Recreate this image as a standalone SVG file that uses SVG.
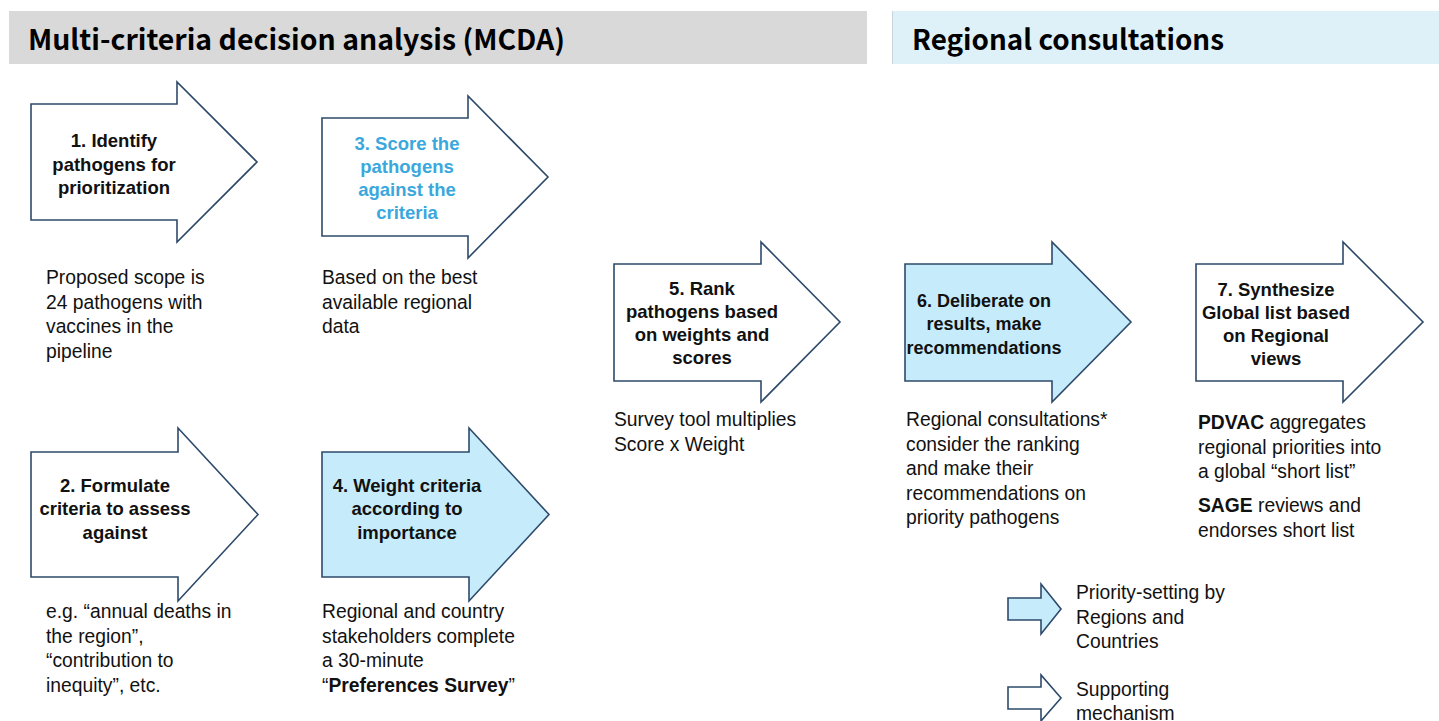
<svg xmlns="http://www.w3.org/2000/svg" width="1439" height="721" viewBox="0 0 1439 721">
  <style>
    .band-title { font-family: "Noto Sans CJK KR", "Open Sans", "Liberation Sans", sans-serif; font-weight: bold; font-size: 28px; fill: #000; }
    .step { stroke: #2E4A6B; stroke-width: 1.6; stroke-linejoin: miter; }
    .plain { fill: #FFFFFF; }
    .regional { fill: #C6ECFB; }
    .label { font-family: "Liberation Sans", Arial, sans-serif; font-weight: bold; font-size: 18.5px; fill: #111; text-anchor: middle; }
    .label.blue { fill: #3AA8DC; }
    .note { font-family: "Liberation Sans", Arial, sans-serif; font-size: 19.3px; fill: #111; }
    .note tspan.b { font-weight: bold; }
    .key { font-family: "Liberation Sans", Arial, sans-serif; font-size: 19.3px; fill: #111; }
  </style>

  <!-- Section bands -->
  <g id="band-mcda">
    <rect x="9" y="11" width="858" height="53" fill="#D9D9D9"/>
    <text class="band-title" x="28" y="50" textLength="537" lengthAdjust="spacingAndGlyphs">Multi-criteria decision analysis (MCDA)</text>
  </g>
  <g id="band-regional">
    <rect x="892" y="11" width="547" height="53" fill="#DEF1F9"/>
    <line x1="892.5" y1="11" x2="892.5" y2="64" stroke="#C8D6DC" stroke-width="1"/>
    <text class="band-title" x="912" y="50" textLength="312" lengthAdjust="spacingAndGlyphs">Regional consultations</text>
  </g>

  <!-- Step 1 -->
  <g id="step1">
    <polygon class="step plain" points="31,104 177,104 177,82 257,162 177,242 177,220 31,220"/>
    <text class="label" x="114" y="147">1. Identify<tspan x="114" dy="23.5">pathogens for</tspan><tspan x="114" dy="23.5">prioritization</tspan></text>
    <text class="note" x="46" y="284">Proposed scope is<tspan x="46" dy="24.5">24 pathogens with</tspan><tspan x="46" dy="24.5">vaccines in the</tspan><tspan x="46" dy="24.5">pipeline</tspan></text>
  </g>

  <!-- Step 2 -->
  <g id="step2">
    <polygon class="step plain" points="31,452 178,452 178,428 258,514.5 178,601 178,577 31,577"/>
    <text class="label" x="115" y="491.5">2. Formulate<tspan x="115" dy="23.5">criteria to assess</tspan><tspan x="115" dy="23.5">against</tspan></text>
    <text class="note" x="46" y="618">e.g. “annual deaths in<tspan x="46" dy="24.5">the region”,</tspan><tspan x="46" dy="24.5">“contribution to</tspan><tspan x="46" dy="24.5">inequity”, etc.</tspan></text>
  </g>

  <!-- Step 3 -->
  <g id="step3">
    <polygon class="step plain" points="322,118 468,118 468,96 548,177 468,258 468,236 322,236"/>
    <text class="label blue" x="407" y="149.5">3. Score the<tspan x="407" dy="23.3">pathogens</tspan><tspan x="407" dy="23.3">against the</tspan><tspan x="407" dy="23.3">criteria</tspan></text>
    <text class="note" x="322" y="284">Based on the best<tspan x="322" dy="24.5">available regional</tspan><tspan x="322" dy="24.5">data</tspan></text>
  </g>

  <!-- Step 4 -->
  <g id="step4">
    <polygon class="step regional" points="322,452 469,452 469,428 549,514.5 469,601 469,577 322,577"/>
    <text class="label" x="407" y="491.5">4. Weight criteria<tspan x="407" dy="23.5">according to</tspan><tspan x="407" dy="23.5">importance</tspan></text>
    <text class="note" x="322" y="618">Regional and country<tspan x="322" dy="24.5">stakeholders complete</tspan><tspan x="322" dy="24.5">a 30-minute</tspan><tspan x="322" dy="24.5">“<tspan class="b">Preferences Survey</tspan>”</tspan></text>
  </g>

  <!-- Step 5 -->
  <g id="step5">
    <polygon class="step plain" points="614,264 761,264 761,242 840,322 761,402 761,381 614,381"/>
    <text class="label" x="702" y="294.5">5. Rank<tspan x="702" dy="23.3">pathogens based</tspan><tspan x="702" dy="23.3">on weights and</tspan><tspan x="702" dy="23.3">scores</tspan></text>
    <text class="note" x="614" y="426">Survey tool multiplies<tspan x="614" dy="24.5">Score x Weight</tspan></text>
  </g>

  <!-- Step 6 -->
  <g id="step6">
    <polygon class="step regional" points="905,264 1052,264 1052,242 1131,322 1052,402 1052,381 905,381"/>
    <text class="label" x="984" y="306.5" style="font-size:18px">6. Deliberate  on<tspan x="984" dy="23.5">results, make</tspan><tspan x="984" dy="23.5">recommendations</tspan></text>
    <text class="note" x="906" y="426">Regional consultations*<tspan x="906" dy="24.5">consider the ranking</tspan><tspan x="906" dy="24.5">and make their</tspan><tspan x="906" dy="24.5">recommendations on</tspan><tspan x="906" dy="24.5">priority pathogens</tspan></text>
  </g>

  <!-- Step 7 -->
  <g id="step7">
    <polygon class="step plain" points="1196,264 1343,264 1343,242 1423,322 1343,402 1343,381 1196,381"/>
    <text class="label" x="1276" y="295.5">7. Synthesize<tspan x="1276" dy="23.3">Global list based</tspan><tspan x="1276" dy="23.3">on Regional</tspan><tspan x="1276" dy="23.3">views</tspan></text>
    <text class="note" x="1198" y="429"><tspan class="b">PDVAC</tspan> aggregates<tspan x="1198" dy="24.5">regional priorities into</tspan><tspan x="1198" dy="24.5">a global  “short list”</tspan></text>
    <text class="note" x="1198" y="512"><tspan class="b">SAGE</tspan> reviews and<tspan x="1198" dy="24.5">endorses short list</tspan></text>
  </g>

  <!-- Legend -->
  <g id="legend-regional">
    <polygon class="step regional" points="1008,598 1041,598 1041,584 1061,609 1041,634 1041,620 1008,620"/>
    <text class="key" x="1076" y="599">Priority-setting by<tspan x="1076" dy="24.5">Regions and</tspan><tspan x="1076" dy="24.5">Countries</tspan></text>
  </g>
  <g id="legend-supporting">
    <polygon class="step plain" points="1008,687 1041,687 1041,675 1061,698 1041,721 1041,709 1008,709"/>
    <text class="key" x="1076" y="696">Supporting<tspan x="1076" dy="23.5">mechanism</tspan></text>
  </g>

  <!-- No separate connectors: the steps are themselves arrow shapes -->
  <g id="connectors"/>
</svg>
